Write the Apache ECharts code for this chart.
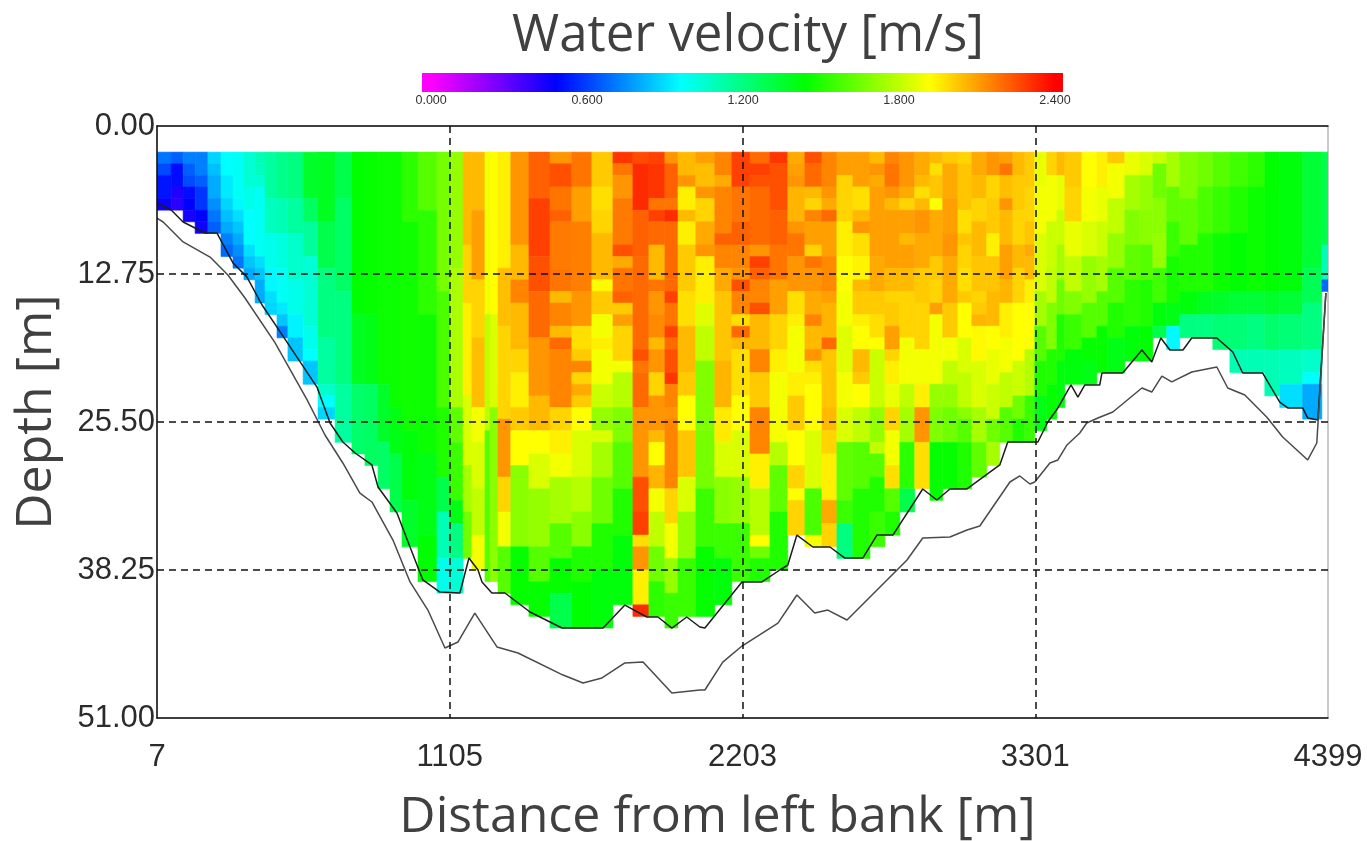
<!DOCTYPE html>
<html><head><meta charset="utf-8">
<style>html,body{margin:0;padding:0;background:#fff}#c{width:1367px;height:841px}</style>
<script src="https://cdn.jsdelivr.net/npm/echarts@6/dist/echarts.min.js"></script>
</head><body><div id="c"></div>
<script>
// Left edges of ensemble columns, metres from left bank (last value closes the final column)
const columnEdges = [7,60,105,150,198,247,292,333,375,412,457,498,555,611,675,738,787,836,881,926,986,1057,1106,1155,1188,1237,1256,1286,1334,1402,1481,1563,1638,1717,1792,1852,1912,1961,2028,2099,2163,2231,2306,2373,2437,2501,2557,2617,2681,2737,2793,2849,2906,2954,3011,3063,3119,3168,3217,3262,3299,3344,3382,3412,3476,3532,3573,3637,3693,3742,3794,3843,3911,3967,4031,4098,4162,4218,4304,4376,4399];
const firstBinDepth = 2.25;
const binHeight = 1;
// Velocity in each column from the surface down, as value,binCount,value,binCount...
const columnVelocity = [
[.7,1,.62,1,.52,2,.46,1],
[.66,1,.5,2,.42,1,.4,1],
[.72,1,.66,1,.62,1,.5,1,.48,1,.44,1],
[.72,2,.66,1,.58,2,.48,1,.45,1],
[.88,1,.84,1,.8,2,.75,1,.7,1,.66,1],
[.96,2,.92,2,.88,1,.84,1,.8,1,.72,1,.68,1],
[.98,4,.95,1,.9,1,.85,1,.8,1,.75,1,.7,1],
[1.04,3,1,2,.96,3,.9,1,.85,1,.8,1],
[1.1,1,1.08,1,1.04,1,.98,6,.9,1,.85,1,.8,2],
[1.14,4,1.08,3,1,3,.95,2,.9,1,.88,1],
[1.18,4,1.1,3,1.02,3,.98,3,.92,1,.85,1,.72,1],
[1.2,4,1.14,3,1.06,4,1,3,.94,2,.85,2],
[1.36,4,1.26,2,1.15,3,1.04,6,1,2,.96,1,.85,2],
[1.38,6,1.3,4,1.2,6,1.14,4,1.06,1,.96,1,.88,1],
[1.3,4,1.25,8,1.2,8,1.14,5],
[1.44,14,1.38,6,1.24,6],
[1.45,14,1.4,6,1.26,7],
[1.46,20,1.36,5,1.25,4],
[1.46,22,1.4,4,1.3,5],
[1.52,6,1.47,18,1.42,6,1.36,4],
[1.6,5,1.52,9,1.46,12,1.4,7,1.44,4],
[1.66,12,1.58,10,1.5,6,1.3,3,1.1,4,1,3],
[1.72,10,1.76,12,1.62,3,1.55,5,1.4,2,1.2,3,1.04,3],
[2.05,8,2,5,1.95,8,1.85,6,1.75,4,1.65,4],
[2.05,5,2.1,6,2,5,2.04,6,1.9,3,1.85,4,1.8,4,1.9,3],
[1.9,14,1.8,10,1.6,13],
[1.92,14,1.85,8,1.7,15],
[1.95,10,2.04,5,2,8,2.12,5,2,3,1.9,3,1.6,4],
[2.12,8,2.05,3,2.15,2,2.05,4,2,2,1.95,3,2.02,2,1.92,3,1.7,7,1.45,5],
[2.22,4,2.28,5,2.25,3,2.2,4,2.12,5,2.05,3,1.92,2,1.85,3,1.72,5,1.6,3,1.45,3],
[2.12,1,2.25,2,2.18,2,2.22,1,2.17,4,2.18,2,2.05,1,2.15,2,2.05,1,2.2,1,2.15,5,2,2,1.95,2,1.9,2,1.75,4,1.6,3,1.45,3,1.3,3],
[2.18,3,2.1,3,2.16,6,2.12,3,1.98,2,2.02,1,2.15,1,2,1,2.08,1,2.02,1,1.92,2,1.85,4,1.78,3,1.7,3,1.5,3,1.44,4],
[2.02,3,1.98,2,2,2,2.05,4,1.93,1,2.02,2,1.9,2,1.95,1,1.9,3,1.82,2,1.72,2,1.85,1,1.75,3,1.65,4,1.5,4,1.42,5],
[2.3,1,2.18,1,2.12,2,2.17,4,2.25,1,2.08,1,2.18,2,2.22,1,2.02,1,2.1,1,2,3,1.9,1,1.78,3,1.68,3,1.6,4,1.5,4,1.42,6],
[2.26,1,2.32,4,2.22,4,2.2,8,2.25,1,2.18,1,2.2,3,2.12,6,2.25,3,2.28,2,1.98,1,2.12,2,1.95,3,2.32,1],
[2.28,1,2.3,3,2.18,1,2.28,1,2.2,2,2.05,3,2.18,1,2.12,2,2.14,2,2.05,1,2.12,2,2,2,2.12,3,2.05,1,1.92,2,2.06,2,1.9,2,1.8,3,1.65,3,1.52,3],
[2.12,1,2.22,3,2.18,1,2.32,1,2.2,5,2.2,1,2.28,1,2.18,2,2.28,1,2.2,1,2.25,2,2.3,1,2.15,2,2.12,1,2.15,6,2,3,1.9,3,1.72,3,1.55,3],
[2.05,2,2.12,1,1.95,2,2.05,1,1.95,2,2.02,4,1.98,3,2.05,4,2.02,2,1.92,3,2.03,4,1.85,3,1.72,4,1.55,5],
[2.1,1,2.04,2,2.12,1,2,2,2.08,2,2.12,1,1.95,4,1.86,2,1.8,3,1.68,6,1.66,5,1.55,5,1.45,6],
[2.15,2,2.08,1,2.15,4,2.22,1,2.15,2,2.08,2,2.03,6,2.06,4,1.96,3,1.85,3,1.7,4,1.55,3,1.42,4],
[2.28,3,2.18,3,2.22,2,2.15,2,2.12,1,2.25,1,2.15,2,1.98,1,2.2,1,2.05,1,1.98,4,1.92,3,1.85,4,1.72,4,1.55,5],
[2.2,1,2.28,1,2.25,1,2.2,5,2.12,1,2.28,1,2.22,1,2.15,2,2.25,1,2.05,3,2.15,2,2.02,3,2.15,4,1.95,3,1.78,4,1.92,1,1.65,1,1.5,2],
[2.3,1,2.25,4,2.22,3,2.18,3,2.1,3,2,3,1.95,2,1.9,6,1.78,2,1.62,4,1.5,5],
[2.08,1,2.1,1,2.12,1,2.06,3,2.12,1,2.18,2,2.12,3,1.98,2,1.95,1,1.9,4,1.95,2,2.02,3,1.92,3,2,2,1.92,1,2,3],
[2.25,1,2.2,2,2.05,1,2,1,2.15,1,2.1,2,2,1,2.18,1,2.12,2,2.08,2,2.15,1,2.05,2,2.12,1,1.98,1,1.95,1,1.92,4,1.85,5,1.58,4,1.9,1],
[2.15,3,2.12,1,2.08,1,2.2,1,2.1,3,2.14,3,2.1,1,2.06,3,2.2,1,2.03,5,2.05,2,2,2,1.95,4,2.08,2,2,2],
[2.1,2,2,4,1.95,3,1.92,3,1.9,3,1.86,4,1.9,3,1.85,3,1.62,5,1.55,2,1.2,3],
[2.1,3,1.98,2,2.05,1,2.12,1,1.98,2,1.94,2,2.05,1,2.02,2,1.95,1,1.92,2,2.05,2,2.02,1,1.92,2,1.8,3,1.6,4,1.5,6],
[2.05,1,2.12,1,2.08,1,2.1,6,2.08,3,2.02,2,1.98,2,1.92,1,1.82,5,1.72,3,1.8,1,1.6,2,1.5,3,1.55,3],
[2.15,1,2.18,2,2.12,1,2.05,1,2.1,5,2.05,2,2,1,2.02,2,2.1,2,2,1,1.95,2,1.88,2,2,2,1.9,3,1.98,2,1.6,2,1.5,2],
[2.12,3,2.08,1,2,1,2.1,2,2.05,1,2.1,2,2.05,2,2,4,1.9,4,1.8,2,1.75,3,1.52,4,1.3,2],
[2.08,2,2.05,1,1.98,1,2.05,1,2.12,2,2.08,3,2.02,3,2,4,1.9,3,1.95,2,2.12,3,1.98,4],
[2.05,1,1.98,1,2.03,2,1.92,1,2.08,4,2.02,2,2,2,2.1,1,1.9,6,1.72,2,1.68,3,1.45,5],
[2.02,1,2.08,3,2.1,3,2.12,2,2.08,4,2.02,3,1.9,2,1.8,2,1.72,2,1.65,3,1.45,4],
[2,1,2.03,4,1.98,2,2.03,1,2,2,1.98,2,2.02,1,1.92,3,1.85,3,1.8,3,1.7,1,1.6,2,1.5,4],
[2.08,2,2.05,2,2,2,2.05,3,2.03,3,2,1,2.02,1,2.06,1,1.93,3,1.85,4,1.75,3,1.62,3],
[2.12,2,2,2,2.02,3,1.95,2,2.03,3,2.05,3,1.92,2,1.88,3,1.82,3,1.65,2,1.75,2],
[2.1,1,2.18,1,2.04,2,2.12,1,2.05,3,2.1,3,2.06,2,1.95,3,1.9,3,1.8,3,1.6,3],
[2.05,2,2.02,3,2,3,2.05,2,2,3,1.92,5,1.82,3,1.65,2,1.5,2],
[2.02,3,2,3,2.03,2,2.08,1,2.05,2,1.95,2,1.92,4,1.78,4,1.55,4],
[1.88,3,1.9,4,1.85,5,1.75,3,1.6,3,1.5,3,1.4,3],
[2,2,1.9,4,1.82,4,1.8,3,1.68,4,1.5,3,1.45,3],
[2.05,2,1.88,3,1.82,3,1.75,3,1.65,3,1.5,4,1.42,4],
[2.02,3,2,3,1.88,3,1.8,3,1.68,2,1.55,3,1.42,3],
[1.92,3,1.9,3,1.85,3,1.72,4,1.6,3,1.45,2,1.4,2],
[1.95,3,1.88,3,1.82,3,1.75,3,1.6,3,1.45,4],
[2.02,1,1.9,3,1.8,3,1.72,3,1.6,3,1.5,3,1.4,3],
[1.88,2,1.75,3,1.68,3,1.62,3,1.52,4,1.42,3],
[1.85,2,1.72,3,1.7,3,1.6,3,1.5,4,1.44,3],
[1.82,1,1.65,3,1.7,3,1.72,3,1.56,3,1.42,2,1.3,1],
[1.75,3,1.62,3,1.55,3,1.48,4,1.4,2,.95,2],
[1.68,4,1.62,4,1.5,4,1.42,2,1.2,2],
[1.65,3,1.58,4,1.5,5,1.38,2,1.2,2],
[1.6,3,1.54,4,1.46,5,1.36,2,1.22,3],
[1.56,3,1.5,4,1.44,5,1.34,2,1.22,3,1.1,2],
[1.52,3,1.46,9,1.34,2,1.2,3,1.1,2],
[1.44,12,1.36,2,1.24,3,1.1,4],
[1.42,12,1.34,2,1.22,3,1.08,3,.9,2],
[1.34,10,1.28,3,1.2,4,1.06,2,.96,1,.8,3],
[1.3,8,1.1,3,.68,1]
];
// Distance, depth pairs of the two bed lines
const upperBed = [[7,6.63],[60,7.24],[105,8.27],[187,9.22],[232,9.22],[292,11.8],[344,13],[401,15.42],[457,17.32],[607,22.49],[656,25.59],[704,27.22],[750,28.17],[813,29.2],[836,31.1],[907,33.34],[956,36.27],[1004,39.11],[1068,40.15],[1143,40.23],[1177,37.22],[1211,38.25],[1226,39.28],[1263,40.23],[1312,40.23],[1406,41.87],[1526,43.25],[1680,43.25],[1762,41.27],[1844,42.3],[1886,42.3],[1938,43.25],[1994,42.3],[2043,43.16],[2062,43.25],[2201,39.28],[2276,39.28],[2343,38.25],[2373,37.82],[2407,35.24],[2467,36.27],[2531,36.27],[2587,37.22],[2654,37.22],[2707,35.24],[2767,35.24],[2879,31.27],[2932,32.22],[2981,31.27],[3045,31.27],[3168,29.2],[3198,27.22],[3311,27.22],[3348,25.5],[3386,24.29],[3435,22.31],[3461,23.35],[3487,22.31],[3543,22.31],[3551,21.28],[3629,21.28],[3701,19.3],[3738,20.33],[3772,18.26],[3806,19.3],[3855,19.3],[3888,18.26],[3982,18.26],[4042,19.47],[4079,21.28],[4154,21.28],[4218,23.78],[4248,24.29],[4304,24.29],[4323,25.16],[4361,25.33],[4391,14.39]];
const lowerBed = [[7,7.93],[30,8.27],[105,9.99],[206,11.29],[273,12.84],[337,14.82],[450,18.69],[570,23.6],[637,26.62],[704,29.03],[768,31.62],[813,32.39],[892,35.67],[956,39.28],[1023,41.7],[1087,44.97],[1136,44.45],[1199,41.96],[1282,44.88],[1361,45.4],[1530,47.3],[1605,47.99],[1676,47.55],[1762,46.26],[1830,46.18],[1938,48.85],[2043,48.59],[2062,48.59],[2129,46.18],[2201,44.8],[2336,42.82],[2407,40.4],[2474,41.96],[2523,41.7],[2595,42.56],[2820,37.39],[2879,35.49],[2981,35.41],[3045,34.8],[3093,34.46],[3206,30.67],[3243,30.15],[3281,30.84],[3299,30.67],[3356,29.03],[3386,28.77],[3420,27.48],[3468,26.45],[3494,25.59],[3536,25.16],[3592,24.64],[3701,22.57],[3738,22.92],[3776,21.54],[3813,22.05],[3888,21.19],[3982,20.76],[4023,22.57],[4087,23.17],[4169,25.07],[4229,26.79],[4323,28.77],[4357,27.31],[4391,14.39]];
const distanceTicks = [7,1105,2203,3301,4399];
const scaleTicks = [0,0.6,1.2,1.8,2.4];
const scaleRange = [-0.035,2.431];
const rampColors = ['#ff00ff','#0000ff','#00ffff','#00ff00','#ffff00','#ff0000'];

const cells = [];
columnVelocity.forEach((col, i) => {
  let bin = 0;
  for (let k = 0; k < col.length; k += 2) {
    const top = firstBinDepth + bin * binHeight;
    bin += col[k + 1];
    cells.push([columnEdges[i], columnEdges[i + 1], top, firstBinDepth + bin * binHeight, col[k]]);
  }
});

const chart = echarts.init(document.getElementById('c'));
const ink = '#404040';
const tickFont = {fontFamily: 'Liberation Sans', fontSize: 31, color: '#2b2b2b'};
chart.setOption({
  animation: false,
  backgroundColor: '#fff',
  title: {text: 'Water velocity [m/s]', left: 743, textAlign: 'center', top: 6,
    textStyle: {fontFamily: 'Open Sans', fontSize: 51, fontWeight: 'normal', color: ink}},
  visualMap: {show: false, type: 'continuous', min: 0, max: 2.4, dimension: 4, seriesIndex: 0,
    inRange: {color: rampColors}},
  grid: [
    {left: 157, top: 126, width: 1171, height: 592, show: true, borderColor: '#999', borderWidth: 1, backgroundColor: '#fff', outerBoundsMode: 'none'},
    {left: 422, top: 73, width: 641, height: 19, outerBoundsMode: 'none'}
  ],
  xAxis: [
    {type: 'value', gridIndex: 0, min: 7, max: 4399, z: 10,
      name: 'Distance from left bank [m]', nameLocation: 'middle', nameGap: 75,
      nameTextStyle: {fontFamily: 'Open Sans', fontSize: 50, color: ink, padding: [0, 50, 0, 0]},
      axisLine: {show: true, onZero: false, lineStyle: {color: '#111', width: 1.5}},
      axisTick: {show: false, customValues: distanceTicks},
      axisLabel: Object.assign({customValues: distanceTicks, margin: 24, showMinLabel: true, showMaxLabel: true, formatter: v => String(v)}, tickFont),
      splitLine: {show: true, showMinLine: false, showMaxLine: false, lineStyle: {color: '#111', width: 1.5, type: [7, 5]}}},
    {type: 'value', gridIndex: 0, position: 'top', min: 7, max: 4399, z: 10,
      axisLine: {show: true, onZero: false, lineStyle: {color: '#111', width: 1.5}},
      axisTick: {show: false}, axisLabel: {show: false}, splitLine: {show: false}},
    {type: 'value', gridIndex: 1, min: scaleRange[0], max: scaleRange[1], z: 10,
      axisLine: {show: false},
      axisTick: {show: false, customValues: scaleTicks},
      axisLabel: {customValues: scaleTicks, margin: 2, fontFamily: 'Liberation Sans', fontSize: 12.5, color: '#333',
        formatter: v => v.toFixed(3)},
      splitLine: {show: false}}
  ],
  yAxis: [
    {type: 'value', gridIndex: 0, inverse: true, min: 0, max: 51, interval: 12.75, z: 10,
      name: 'Depth [m]', nameLocation: 'middle', nameGap: 95, nameRotate: 90,
      nameTextStyle: {fontFamily: 'Open Sans', fontSize: 50, color: ink, padding: [0, 0, 0, 20]},
      axisLine: {show: true, onZero: false, lineStyle: {color: '#111', width: 1.5}},
      axisTick: {show: false},
      axisLabel: Object.assign({margin: 2, formatter: v => v.toFixed(2), showMinLabel: true, showMaxLabel: true}, tickFont),
      splitLine: {show: true, showMinLine: false, showMaxLine: false, lineStyle: {color: '#111', width: 1.5, type: [7, 5]}}},
    {type: 'value', gridIndex: 1, min: 0, max: 1, show: false}
  ],
  series: [
    {type: 'custom', xAxisIndex: 0, yAxisIndex: 0, clip: true, data: cells,
      encode: {x: [0, 1], y: [2, 3]},
      renderItem: (params, api) => {
        const a = api.coord([api.value(0), api.value(2)]);
        const b = api.coord([api.value(1), api.value(3)]);
        const fill = api.visual('color');
        return {type: 'rect',
          shape: {x: a[0], y: a[1], width: b[0] - a[0], height: b[1] - a[1]},
          style: {fill: fill, stroke: fill, lineWidth: 0.6}};
      }},
    {type: 'line', xAxisIndex: 0, yAxisIndex: 0, data: upperBed, showSymbol: false, z: 5,
      lineStyle: {color: '#1c1c1c', width: 1.5}},
    {type: 'line', xAxisIndex: 0, yAxisIndex: 0, data: lowerBed, showSymbol: false, z: 5,
      lineStyle: {color: '#4a4a4a', width: 1.5}},
    {type: 'custom', xAxisIndex: 2, yAxisIndex: 1, data: [[scaleRange[0], scaleRange[1]]],
      encode: {x: [0, 1]},
      renderItem: (params, api) => {
        const a = api.coord([api.value(0), 1]);
        const b = api.coord([api.value(1), 0]);
        const span = scaleRange[1] - scaleRange[0];
        const stops = rampColors.map((c, i) => ({
          offset: (i * 0.48 - scaleRange[0]) / span, color: c}));
        return {type: 'rect',
          shape: {x: a[0], y: a[1], width: b[0] - a[0], height: b[1] - a[1]},
          style: {fill: new echarts.graphic.LinearGradient(0, 0, 1, 0, stops)}};
      }}
  ]
});
</script></body></html>
